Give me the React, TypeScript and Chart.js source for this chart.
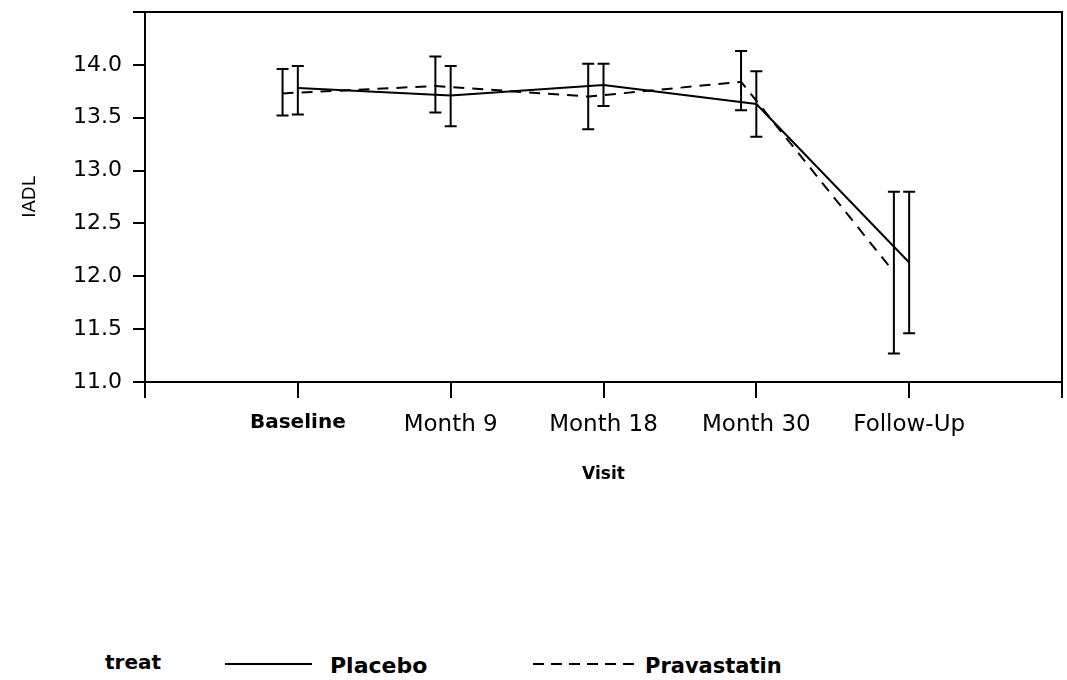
import React, { useEffect, useRef } from "react";
import { Chart, registerables } from "chart.js";

Chart.register(...registerables);

// ---- data ----
const visits = ["Baseline", "Month 9", "Month 18", "Month 30", "Follow-Up"];
const visitPositions = [1, 2, 3, 4, 5];
const pravastatinShift = -0.1;

const placeboMean = [13.78, 13.71, 13.81, 13.63, 12.13];
const placeboLower = [13.53, 13.42, 13.61, 13.32, 11.46];
const placeboUpper = [13.99, 13.99, 14.01, 13.94, 12.8];

const pravastatinMean = [13.73, 13.8, 13.7, 13.84, 12.04];
const pravastatinLower = [13.52, 13.55, 13.39, 13.57, 11.27];
const pravastatinUpper = [13.96, 14.08, 14.01, 14.13, 12.8];

const yMin = 11;
const yMax = 14.5;
const yStep = 0.5;
const xMin = 0;
const xMax = 6;

const legendTitle = "treat";
const seriesNames = ["Placebo", "Pravastatin"];

const FONT = "'DejaVu Sans', 'Liberation Sans', sans-serif";

const errorBars: any = {
  id: "errorBars",
  afterDatasetsDraw(chart: any) {
    const { ctx } = chart;
    const xs = chart.scales.x;
    const ys = chart.scales.y;
    chart.data.datasets.forEach((ds: any) => {
      const lows: number[] = ds.lower;
      const highs: number[] = ds.upper;
      ds.data.forEach((pt: any, i: number) => {
        const px = xs.getPixelForValue(pt.x);
        const pLo = ys.getPixelForValue(lows[i]);
        const pHi = ys.getPixelForValue(highs[i]);
        ctx.save();
        ctx.strokeStyle = "#000";
        ctx.lineWidth = 2;
        ctx.setLineDash([]);
        ctx.beginPath();
        ctx.moveTo(px, pLo);
        ctx.lineTo(px, pHi);
        ctx.moveTo(px - 6, pLo);
        ctx.lineTo(px + 6, pLo);
        ctx.moveTo(px - 6, pHi);
        ctx.lineTo(px + 6, pHi);
        ctx.stroke();
        ctx.restore();
      });
    });
  },
};

const frame: any = {
  id: "frame",
  afterDraw(chart: any) {
    const { ctx, chartArea } = chart;
    ctx.save();
    ctx.strokeStyle = "#000";
    ctx.lineWidth = 2;
    ctx.beginPath();
    ctx.moveTo(chartArea.left, chartArea.top);
    ctx.lineTo(chartArea.right, chartArea.top);
    ctx.lineTo(chartArea.right, chartArea.bottom);
    ctx.stroke();
    ctx.restore();
  },
};

export default function App() {
  const canvasRef = useRef<HTMLCanvasElement | null>(null);

  useEffect(() => {
    const canvas = canvasRef.current;
    if (!canvas) return;
    const chart = new Chart(canvas, {
      type: "scatter",
      data: {
        datasets: [
          {
            label: seriesNames[0],
            data: visitPositions.map((x, i) => ({ x, y: placeboMean[i] })),
            lower: placeboLower,
            upper: placeboUpper,
            showLine: true,
            borderColor: "#000",
            backgroundColor: "#000",
            borderWidth: 2,
            pointRadius: 0,
            tension: 0,
          } as any,
          {
            label: seriesNames[1],
            data: visitPositions.map((x, i) => ({ x: x + pravastatinShift, y: pravastatinMean[i] })),
            lower: pravastatinLower,
            upper: pravastatinUpper,
            showLine: true,
            borderColor: "#000",
            backgroundColor: "#000",
            borderWidth: 2,
            borderDash: [11, 8],
            pointRadius: 0,
            tension: 0,
          } as any,
        ],
      },
      options: {
        animation: false,
        responsive: false,
        maintainAspectRatio: false,
        layout: { padding: { top: 12, right: 5, left: 0, bottom: 0 } },
        plugins: {
          legend: { display: false },
          tooltip: { enabled: false },
        },
        scales: {
          x: {
            type: "linear",
            min: xMin,
            max: xMax,
            afterBuildTicks: (scale: any) => {
              const t = [];
              for (let v = xMin; v <= xMax; v++) t.push({ value: v });
              scale.ticks = t;
            },
            afterFit: (scale: any) => {
              scale.height = 118;
              scale.paddingLeft = 0;
              scale.paddingRight = 0;
            },
            ticks: {
              autoSkip: false,
              maxRotation: 0,
              padding: 13,
              color: "#000",
              callback: (v: any) => {
                const i = visitPositions.indexOf(Number(v));
                return i >= 0 ? visits[i] : "";
              },
              font: (ctx: any) =>
                ctx.index === 1
                  ? { family: FONT, size: 20, weight: "bold" }
                  : { family: FONT, size: 23, weight: "normal" },
            },
            grid: {
              drawOnChartArea: false,
              drawTicks: true,
              tickLength: 16,
              color: "#000",
              lineWidth: 2,
            },
            border: { display: true, color: "#000", width: 2 },
            title: {
              display: true,
              text: "Visit",
              color: "#000",
              font: { family: FONT, size: 17, weight: "bold" },
              padding: { top: 0, bottom: 15 },
            },
          },
          y: {
            type: "linear",
            min: yMin,
            max: yMax,
            afterFit: (scale: any) => {
              scale.width = 145;
              scale.paddingTop = 0;
              scale.paddingBottom = 0;
            },
            ticks: {
              stepSize: yStep,
              padding: 11,
              color: "#000",
              font: { family: FONT, size: 22 },
              callback: (v: any) => (Number(v) >= yMax ? "" : Number(v).toFixed(1)),
            },
            grid: {
              drawOnChartArea: false,
              drawTicks: true,
              tickLength: 12,
              color: "#000",
              lineWidth: 2,
            },
            border: { display: true, color: "#000", width: 2 },
            title: {
              display: true,
              text: "IADL",
              color: "#000",
              font: { family: FONT, size: 18 },
              padding: { top: 20, bottom: 0 },
            },
          },
        },
      },
      plugins: [errorBars, frame],
    } as any);
    return () => chart.destroy();
  }, []);

  const textStyle: React.CSSProperties = {
    position: "absolute",
    top: 654,
    lineHeight: "24px",
    fontFamily: FONT,
    fontWeight: "bold",
    fontSize: 21,
    color: "#000",
    whiteSpace: "nowrap",
  };

  return (
    <div style={{ position: "absolute", left: 0, top: 0, width: 1067, height: 680, background: "#fff", overflow: "hidden" }}>
      <canvas ref={canvasRef} width={1067} height={500} style={{ display: "block" }} />
      <span style={{ ...textStyle, left: 105, fontSize: 20, top: 650 }}>{legendTitle}</span>
      <svg style={{ position: "absolute", left: 225, top: 655, overflow: "visible" }} width={90} height={20}>
        <line x1={0} y1={9} x2={87} y2={9} stroke="#000" strokeWidth={2} />
      </svg>
      <span style={{ ...textStyle, left: 330, fontSize: 22 }}>{seriesNames[0]}</span>
      <svg style={{ position: "absolute", left: 533, top: 655, overflow: "visible" }} width={104} height={20}>
        <line x1={0} y1={9} x2={101} y2={9} stroke="#000" strokeWidth={2} strokeDasharray="11 7" />
      </svg>
      <span style={{ ...textStyle, left: 645 }}>{seriesNames[1]}</span>
    </div>
  );
}
